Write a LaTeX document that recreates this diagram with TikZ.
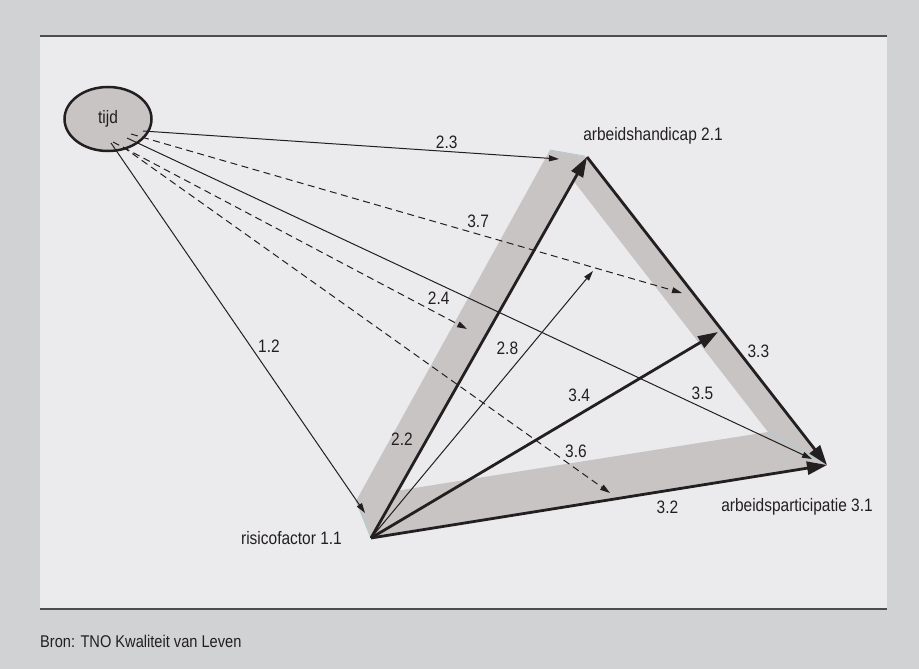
\documentclass[tikz,border=0pt]{standalone}
\usepackage{fontspec}
\setmainfont{Liberation Sans}[FakeStretch=0.86]
\usepackage{xcolor}
\usetikzlibrary{positioning, shapes.geometric, arrows.meta}

\definecolor{outerbg}{HTML}{D1D2D4}
\definecolor{panelbg}{HTML}{EBEBED}
\definecolor{bandgray}{HTML}{C8C4C4}
\definecolor{inkblack}{HTML}{231F20}
\definecolor{rulegray}{HTML}{4D4D4F}
\definecolor{edgeblue}{HTML}{A8CDD3}

\begin{document}
\begin{tikzpicture}[
        x=1pt, y=-1pt,
        every node/.style={font=\fontsize{18}{20}\selectfont, text=inkblack, inner sep=0pt},
        band/.style={fill=bandgray},
        bandedge/.style={draw=edgeblue, line width=0.7pt},
        thinarrow/.style={draw=inkblack, line width=1pt, -{Triangle[length=10pt, width=6pt]}},
        dasharrow/.style={thinarrow, dash pattern=on 7pt off 4.5pt},
        thickarrow/.style={draw=inkblack, line width=2.8pt, -{Triangle[length=20pt, width=13pt]}},
    ]
        % Frame
        \fill[outerbg] (0,0) rectangle (919,669);
        \fill[panelbg] (40,36) rectangle (887,609);
        \draw[rulegray, line width=2.5pt] (40,36) -- (887,36);
        \draw[rulegray, line width=2pt] (40,609) -- (887,609);

        % Corners
        \coordinate (risico) at (371,538);
        \coordinate (handicap) at (587,157);
        \coordinate (particip) at (827,465);

        % Bands
        \fill[band] (risico) -- (particip) -- (768,432) -- (364,496) -- cycle;
        \fill[band] (handicap) -- (particip) -- (768,432) -- (555,157) -- cycle;
        \fill[band] (risico) -- (handicap) -- (550,150) -- (356,501) -- cycle;
        \draw[bandedge] (550,150) -- (585,156);
        \draw[bandedge] (356,501) -- (370,536);
        \draw[bandedge] (768,432) -- (824,463);

        % Nodes
        \node[ellipse, draw=inkblack, line width=2.5pt, fill=bandgray, minimum width=87pt, minimum height=64pt] (tijd) at (108,119) {tijd};
        \node (handicaplbl) at (653,136) {arbeidshandicap 2.1};
        \node (participlbl) at (797,507) {arbeidsparticipatie 3.1};
        \node[left=29pt of risico] (risicolbl) {risicofactor 1.1};
        \node[anchor=west, font=\fontsize{17}{20}\selectfont] (bron) at (40,641) {Bron: TNO Kwaliteit van Leven};

        % Start and end points
        \coordinate (s23) at (143,131);
        \coordinate (s37) at (131,134);
        \coordinate (s35) at (127,138);
        \coordinate (s24) at (113,142);
        \coordinate (s36) at (123,147);
        \coordinate (s12) at (111,143);
        \coordinate (e23) at (559,159);
        \coordinate (e37) at (682,293);
        \coordinate (e24) at (467,329);
        \coordinate (e36) at (610,493);
        \coordinate (e35) at (812,459);
        \coordinate (e12) at (365,513);
        \coordinate (e28) at (593,271);
        \coordinate (e34) at (718,332);

        % Arrows
        \draw[thinarrow] (s23) -- node[pos=0.73, above=2pt] {2.3} (e23);
        \draw[dasharrow] (s37) -- node[pos=0.63, above=6pt] {3.7} (e37);
        \draw[dasharrow] (s24) -- node[pos=0.92, above=9pt] {2.4} (e24);
        \draw[dasharrow] (s36) -- node[pos=0.93, above=11pt] {3.6} (e36);
        \draw[thinarrow] (s35) -- node[pos=0.84, above=7.5pt] {3.5} (e35);
        \draw[thinarrow] (s12) -- node[pos=0.55, right=7pt] {1.2} (e12);
        \draw[thinarrow] (risico) -- node[pos=0.71, left=10pt] {2.8} (e28);
        \draw[thickarrow] (risico) -- node[pos=0.26, left=13pt] {2.2} (handicap);
        \draw[thickarrow] (risico) -- node[pos=0.6, above=11pt] {3.4} (e34);
        \draw[thickarrow] (risico) -- node[pos=0.65, below=9pt] {3.2} (particip);
        \draw[thickarrow] (handicap) -- node[pos=0.63, right=8pt] {3.3} (particip);
    \end{tikzpicture}
\end{document}
